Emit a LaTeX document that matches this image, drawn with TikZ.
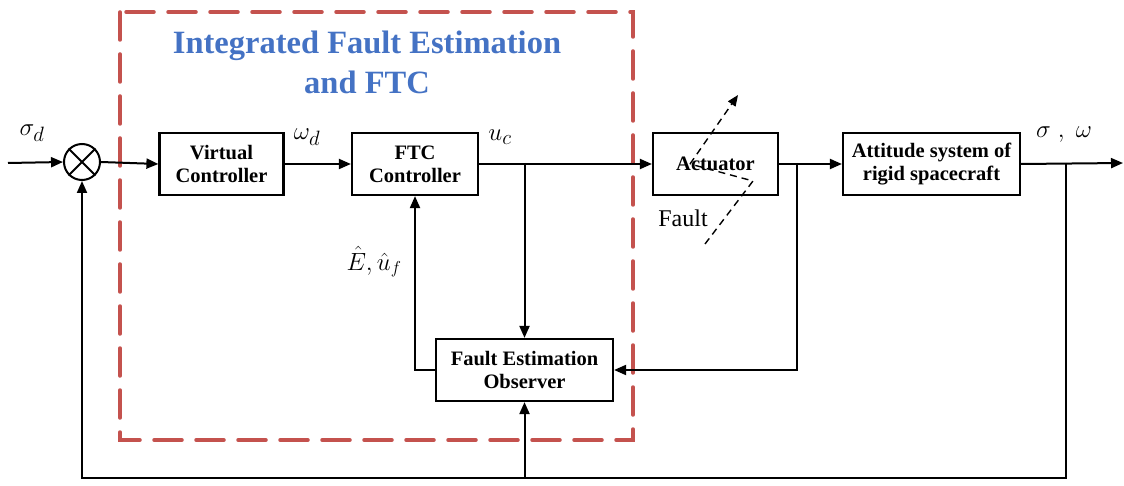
\documentclass[tikz,border=0pt]{standalone}
\usepackage{fontspec}
\setmainfont{Liberation Serif}
\usetikzlibrary{arrows.meta}
\definecolor{fred}{RGB}{196,82,78}
\definecolor{tblue}{RGB}{68,114,196}
\begin{document}
\begin{tikzpicture}[x=1pt,y=-1pt,
  blk/.style={draw, line width=2.2pt, minimum height=62pt, align=center, inner sep=0pt,
    font=\bfseries\fontsize{20.5}{23}\selectfont},
  arr/.style={line width=2pt, -{Triangle[length=12pt,width=10pt]}},
  lbl/.style={inner sep=0pt, font=\fontsize{28}{30}\selectfont}]
\useasboundingbox (0,0) rectangle (1124,486);
% dashed region
\draw[fred, line width=3.5pt, dash pattern=on 28pt off 14pt, line cap=round] (120,12) rectangle (633,440);
\node[font=\bfseries\fontsize{32.5}{40}\selectfont, text=tblue, align=center, inner sep=0pt] (title) at (367,62) {Integrated Fault Estimation\\and FTC};
% blocks
\node[draw, circle, line width=2pt, minimum size=36pt, inner sep=0pt] (sum) at (82,162) {};
\draw[line width=2pt] (sum.north west) -- (sum.south east) (sum.north east) -- (sum.south west);
\node[blk, minimum width=124pt] (vc) at (221.5,164) {Virtual\\Controller};
\node[blk, minimum width=126pt] (ftc) at (415,164) {FTC\\Controller};
\node[blk, minimum width=125pt] (act) at (715.5,164) {};
\node[blk, minimum width=177pt] (att) at (931.5,164) {Attitude system of\\rigid spacecraft};
\node[blk, minimum width=177pt] (obs) at (524.5,370) {Fault Estimation\\Observer};
% coordinates
\coordinate (in) at (8,163);
\coordinate (j1) at (524.5,163);
\coordinate (j2) at (797,163);
\coordinate (j3) at (1066,163);
\coordinate (out) at (1123,163);
\coordinate (b1) at (1066,478);
\coordinate (b2) at (82,478);
\coordinate (b3) at (524.5,478);
\coordinate (r1) at (797,370);
% connectors
\draw[arr] (in) -- (sum.west);
\draw[arr] (sum.east) -- (vc.west);
\draw[arr] (vc.east) -- (ftc.west);
\draw[arr] (ftc.east) -- (act.west);
\draw[arr] (j1) -- (obs.north);
\draw[arr] (act.east) -- (att.west);
\draw[arr] (att.east) -- (out);
\draw[arr] (j2) -- (r1) -- (obs.east);
\draw[arr] (obs.west) -| (ftc.south);
\draw[arr] (j3) -- (b1) -- (b2) -- (sum.south);
\draw[arr] (b3) -- (obs.south);
% fault symbol
\coordinate (f0) at (705,244);
\coordinate (f1) at (753,181);
\coordinate (f2) at (690,164);
\coordinate (f3) at (738,95);
\draw[line width=1.4pt, dash pattern=on 7pt off 5pt] (f0) -- (f1) -- (f2);
\draw[line width=1.4pt, dash pattern=on 7pt off 5pt, -{Triangle[length=11pt,width=9pt]}] (f2) -- (f3);
\node[font=\bfseries\fontsize{20.5}{23}\selectfont, inner sep=0pt] (actl) at (act.center) {Actuator};
% labels
\node[lbl, font=\fontsize{31}{32}\selectfont] (ls) at (32,133) {$\sigma_d$};
\node[lbl] (lw) at (307,137) {$\omega_d$};
\node[lbl] (lu) at (500,137) {$u_c$};
\node[lbl, font=\fontsize{26}{28}\selectfont] (le) at (374,262) {$\hat{E},\hat{u}_{f}$};
\node[lbl] (lo) at (1064,135) {$\sigma\ ,\ \omega$};
\node[lbl, font=\fontsize{24}{28}\selectfont] (lf) at (683,218) {Fault};
\end{tikzpicture}
\end{document}
